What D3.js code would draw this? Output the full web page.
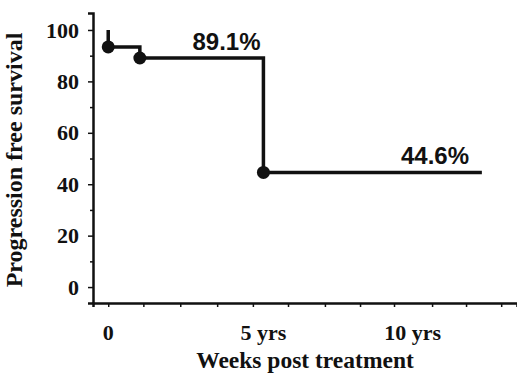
<!DOCTYPE html>
<html>
<head>
<meta charset="utf-8">
<script src="https://cdn.jsdelivr.net/npm/d3@7"></script>
<style>
  html, body { margin: 0; padding: 0; background: #fff; }
  svg { display: block; }
</style>
</head>
<body>
<svg id="chart" width="517" height="377"></svg>
<script>
// ---- data (weeks post treatment, % progression free) ----
const kmTimes = [0, 0, 54, 265, 638];
const kmSurvival = [100, 93.4, 89.1, 44.6, 44.6];
const eventTimes = [0, 54, 265];
const eventSurvival = [93.4, 89.1, 44.6];
const annotationTexts = ["89.1%", "44.6%"];
const annotationTimes = [202, 558];
const annotationValues = [89.1, 44.6];
const yTickValues = [0, 10, 20, 30, 40, 50, 60, 70, 80, 90, 100];
const yTickLabels = ["0", "", "20", "", "40", "", "60", "", "80", "", "100"];
const xTickValues = [0, 60, 123, 186, 247, 307, 370, 430, 488, 553, 611, 671];
const xLabelTexts = ["0", "5 yrs", "10 yrs"];
const xLabelWeeks = [0, 265, 520];

const svg = d3.select("#chart");
const serif = "'Liberation Serif', 'Times New Roman', serif";
const sans = "'Liberation Sans', Arial, sans-serif";

const x = d3.scaleLinear().domain([-26, 698]).range([93, 517]);
const y = d3.scaleLinear().domain([-6.2, 106.6]).range([303, 13]);

// Y axis
const yAxis = svg.append("g")
  .attr("transform", `translate(${x(-26)},0)`)
  .call(d3.axisLeft(y).tickValues(yTickValues).tickSizeOuter(0).tickSize(5)
        .tickFormat((d, i) => yTickLabels[i]));
yAxis.select(".domain").attr("stroke", "#111").attr("stroke-width", 2.5);
yAxis.selectAll(".tick line").attr("stroke", "#111").attr("stroke-width", 1.5)
  .attr("x2", (d, i) => yTickLabels[i] ? -5 : -3);
yAxis.selectAll(".tick text")
  .attr("x", -14)
  .attr("font-family", serif).attr("font-weight", "bold").attr("font-size", 22)
  .attr("fill", "#111");

// X axis
const xAxis = svg.append("g")
  .attr("transform", `translate(0,${y(-6.2)})`)
  .call(d3.axisBottom(x).tickValues(xTickValues).tickSizeOuter(0).tickSize(4).tickFormat(""));
xAxis.select(".domain").attr("stroke", "#111").attr("stroke-width", 2.5);
xAxis.selectAll(".tick line").attr("stroke", "#111").attr("stroke-width", 1.5);

// X labels
svg.selectAll(".xlab").data(xLabelTexts).enter().append("text")
  .attr("class", "xlab")
  .attr("x", (d, i) => x(xLabelWeeks[i]))
  .attr("y", 340)
  .attr("text-anchor", "middle")
  .attr("font-family", serif).attr("font-weight", "bold").attr("font-size", 22)
  .attr("fill", "#111")
  .text(d => d);

// Axis titles
svg.append("text")
  .attr("x", 305).attr("y", 368)
  .attr("text-anchor", "middle")
  .attr("font-family", serif).attr("font-weight", "bold").attr("font-size", 23.5)
  .attr("fill", "#111")
  .text("Weeks post treatment");

svg.append("text")
  .attr("transform", "translate(22,160) rotate(-90)")
  .attr("text-anchor", "middle")
  .attr("font-family", serif).attr("font-weight", "bold").attr("font-size", 24)
  .attr("fill", "#111")
  .text("Progression free survival");

// KM curve
const kmData = kmTimes.map((t, i) => [t, kmSurvival[i]]);
const line = d3.line().x(d => x(d[0])).y(d => y(d[1])).curve(d3.curveStepAfter);
svg.append("path")
  .attr("d", line(kmData))
  .attr("fill", "none")
  .attr("stroke", "#111")
  .attr("stroke-width", 3.5);

// Event dots
svg.selectAll(".dot").data(eventTimes).enter().append("circle")
  .attr("class", "dot")
  .attr("cx", d => x(d))
  .attr("cy", (d, i) => y(eventSurvival[i]))
  .attr("r", 6.5)
  .attr("fill", "#111");

// Annotations
svg.selectAll(".ann").data(annotationTexts).enter().append("text")
  .attr("class", "ann")
  .attr("x", (d, i) => x(annotationTimes[i]))
  .attr("y", (d, i) => y(annotationValues[i]) - 8)
  .attr("text-anchor", "middle")
  .attr("font-family", sans).attr("font-weight", "bold").attr("font-size", 24)
  .attr("fill", "#111")
  .text(d => d);
</script>
</body>
</html>
